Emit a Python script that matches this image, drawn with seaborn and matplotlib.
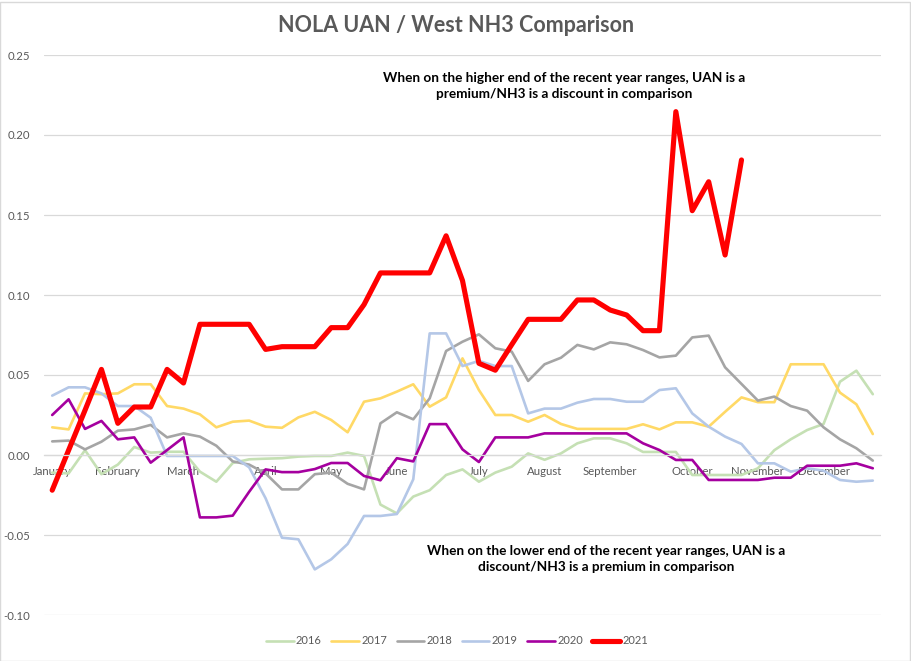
import numpy as np
import pandas as pd
import matplotlib
matplotlib.use("Agg")
import matplotlib.pyplot as plt
from matplotlib.lines import Line2D
from matplotlib.patches import Rectangle
import seaborn as sns

sns.set_theme(style="white")
plt.rcParams['font.family'] = ['Lato', 'DejaVu Sans']

nan = np.nan
years = ["2016", "2017", "2018", "2019", "2020", "2021"]
colors = ["#C5E0B4", "#FFD966", "#A5A5A5", "#B4C7E7", "#A5009F", "#FF0000"]
widths = [1.9, 1.9, 1.9, 1.9, 1.9, 3.7]

month_pos = [0, 4, 8, 13, 17, 21, 26, 30, 34, 39, 43, 47]
month_labels = ["January", "February", "March", "April", "May", "June",
                "July", "August", "September", "October", "November", "December"]

v2016 = [-0.011, -0.0115, 0.003, -0.012, -0.006, 0.005, 0.0015, 0.002, 0.002, -0.0104,
         -0.0167, -0.005, -0.0027, -0.0023, -0.002, -0.001, -0.0006, -0.0006, 0.0015, -0.0006,
         -0.031, -0.0365, -0.026, -0.022, -0.0125, -0.009, -0.0167, -0.011, -0.0073, 0.001,
         -0.003, 0.001, 0.0073, 0.0104, 0.0104, 0.0073, 0.0019, 0.0019, 0.0019, -0.0125,
         -0.0125, -0.0125, -0.0125, -0.0083, 0.003, 0.0098, 0.0156, 0.0194, 0.0458, 0.0527,
         0.038]
v2017 = [0.0173, 0.016, 0.0385, 0.038, 0.0385, 0.0442, 0.0442, 0.0306, 0.029, 0.0254,
         0.0173, 0.0208, 0.0215, 0.0177, 0.017, 0.0235, 0.027, 0.0219, 0.0142, 0.0333,
         0.0354, 0.0396, 0.0442, 0.0302, 0.036, 0.0604, 0.0406, 0.025, 0.025, 0.0208,
         0.025, 0.0194, 0.0163, 0.0163, 0.0163, 0.0163, 0.0192, 0.016, 0.0204, 0.0204,
         0.0177, 0.027, 0.036, 0.033, 0.033, 0.0567, 0.0567, 0.0567, 0.039, 0.0317,
         0.0131]
v2018 = [0.0085, 0.009, 0.0035, 0.0083, 0.0152, 0.016, 0.0188, 0.011, 0.0135, 0.0115,
         0.0058, -0.004, -0.006, -0.0115, -0.0215, -0.0215, -0.012, -0.011, -0.018, -0.0215,
         0.0198, 0.0267, 0.0223, 0.0354, 0.065, 0.0708, 0.0754, 0.0667, 0.0646, 0.0463,
         0.0567, 0.0608, 0.0688, 0.066, 0.0704, 0.0692, 0.0656, 0.061, 0.0621, 0.0735,
         0.0746, 0.0548, 0.0444, 0.034, 0.0365, 0.0306, 0.0277, 0.0173, 0.0098, 0.0042,
         -0.0035]
v2019 = [0.0371, 0.0423, 0.0423, 0.0385, 0.0306, 0.0306, 0.0233, -0.0006, -0.0006, -0.0006,
         -0.0006, -0.0006, -0.0077, -0.027, -0.0517, -0.0527, -0.0715, -0.0652, -0.0556, -0.0381,
         -0.0381, -0.0369, -0.0152, 0.076, 0.076, 0.0556, 0.0588, 0.0556, 0.0556, 0.026,
         0.029, 0.029, 0.0327, 0.035, 0.035, 0.0333, 0.0333, 0.0406, 0.0417, 0.026,
         0.0177, 0.0115, 0.0069, -0.0052, -0.0052, -0.0104, -0.0083, -0.0098, -0.0156, -0.0167,
         -0.016]
v2020 = [0.025, 0.0348, 0.0163, 0.0213, 0.0098, 0.011, -0.0048, 0.0031, 0.011, -0.039,
         -0.039, -0.0379, -0.023, -0.009, -0.0107, -0.0107, -0.0088, -0.005, -0.005, -0.0131,
         -0.0158, -0.002, -0.004, 0.0193, 0.0193, 0.0035, -0.0044, 0.011, 0.011, 0.011,
         0.0135, 0.0135, 0.0135, 0.0135, 0.0135, 0.0135, 0.0073, 0.0031, -0.0031, -0.0031,
         -0.0156, -0.0156, -0.0156, -0.0156, -0.0142, -0.0142, -0.0067, -0.0067, -0.0067, -0.0052,
         -0.0083]
v2021 = [-0.022, 0.003, 0.028, 0.0535, 0.0198, 0.030, 0.030, 0.0535, 0.045, 0.0817,
         0.0817, 0.0817, 0.0817, 0.066, 0.0677, 0.0677, 0.0677, 0.0796, 0.0796, 0.094,
         0.1138, 0.1138, 0.1138, 0.1138, 0.137, 0.109, 0.0573, 0.053, 0.069, 0.0848,
         0.0848, 0.0848, 0.0969, 0.0969, 0.0906, 0.0875, 0.0777, 0.0777, 0.2146, 0.1527,
         0.1708, 0.125, 0.1844, nan, nan, nan, nan, nan, nan, nan,
         nan]

series = [v2016, v2017, v2018, v2019, v2020, v2021]
week = list(range(len(v2016)))

frames = []
for y, vals in zip(years, series):
    frames.append(pd.DataFrame({"week": week, "value": vals, "year": y}))
df = pd.concat(frames, ignore_index=True)

fig = plt.figure(figsize=(9.12, 6.61), dpi=100)
ax = fig.add_axes([44/912, 1-615/661, (881-44)/912, (615-55)/661])

for y, c, w in zip(years, colors, widths):
    sub = df[df["year"] == y].dropna()
    sns.lineplot(data=sub, x="week", y="value", color=c, linewidth=w, ax=ax,
                 legend=False, sort=True)

ax.set_xlim(-0.5, len(week) - 0.5)
ax.set_ylim(-0.10, 0.25)
ax.set_yticks(np.arange(-0.10, 0.2501, 0.05))
ax.set_yticklabels([f"{t:.2f}" for t in np.arange(-0.10, 0.2501, 0.05)])
ax.yaxis.grid(True, color="#D9D9D9", linewidth=0.9)
ax.set_axisbelow(True)
ax.set_xlabel("")
ax.set_ylabel("")

for s in ["top", "right", "left"]:
    ax.spines[s].set_visible(False)
ax.spines["bottom"].set_position(("data", 0))
ax.spines["bottom"].set_color("#D9D9D9")
ax.spines["bottom"].set_linewidth(0.9)
ax.set_xticks(month_pos)
ax.set_xticklabels(month_labels)
ax.tick_params(axis="x", length=0, pad=8, labelsize=8.2, labelcolor="#595959")
ax.tick_params(axis="y", length=0, pad=10, labelsize=8.2, labelcolor="#595959")

fig.text(456/912, 1-26/661, "NOLA UAN / West NH3 Comparison", ha="center", va="center",
         fontsize=15.5, fontweight="bold", color="#595959")
fig.text(564/912, 1-86/661,
         "When on the higher end of the recent year ranges, UAN is a\npremium/NH3 is a discount in comparison",
         ha="center", va="center", fontsize=9.8, fontweight="bold", color="black",
         multialignment="center", linespacing=1.35)
fig.text(606/912, 1-559/661,
         "When on the lower end of the recent year ranges, UAN is a\ndiscount/NH3 is a premium in comparison",
         ha="center", va="center", fontsize=9.8, fontweight="bold", color="black",
         multialignment="center", linespacing=1.35)

handles = [Line2D([0], [0], color=c, linewidth=w) for c, w in zip(colors, widths)]
leg = fig.legend(handles, years, loc="center", bbox_to_anchor=(457/912, 1-641/661), ncol=6,
                 frameon=False, fontsize=8, handlelength=2.5, handletextpad=0.2,
                 columnspacing=0.85)
for t in leg.get_texts():
    t.set_color("#595959")

fig.patches.append(Rectangle((0.5/912, 0.5/661), 1-2/912, 1-2/661, transform=fig.transFigure,
                             fill=False, edgecolor="#D9D9D9", linewidth=1))

fig.savefig("out.png", dpi=100)
